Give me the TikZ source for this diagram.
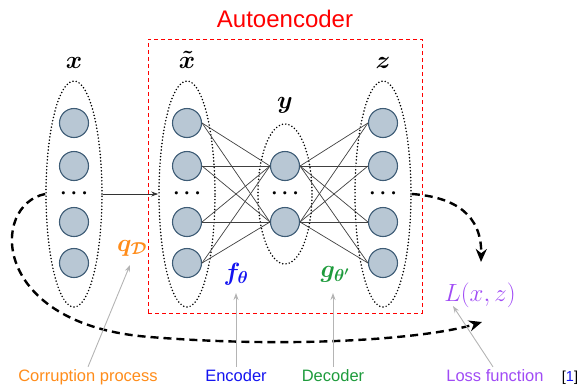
\documentclass[tikz,border=0pt]{standalone}
\usepackage{bm}
\usepackage[no-math]{fontspec}
\newfontfamily\arial{Liberation Sans}
\usetikzlibrary{arrows.meta,shapes.geometric}
\definecolor{nfill}{HTML}{B8C7D4}
\definecolor{nborder}{HTML}{3E5C76}
\definecolor{corange}{HTML}{FF8C1A}
\definecolor{cblue}{HTML}{1414F0}
\definecolor{cgreen}{HTML}{1E9B3C}
\definecolor{cpurple}{HTML}{A04BF5}
\definecolor{cgray}{HTML}{B4B4B4}
\begin{document}
\begin{tikzpicture}[x=1pt,y=-1pt,
  neuron/.style={circle, draw=nborder, fill=nfill, line width=1.1pt, minimum size=29pt, inner sep=0pt},
  layer/.style={ellipse, draw, line width=1.7pt, line cap=round, dash pattern=on 0pt off 3.3pt, inner sep=0pt},
  conn/.style={draw=black!75, line width=0.7pt},
  dotsnode/.style={font=\fontsize{21}{24}\selectfont, inner sep=0pt},
  mlabel/.style={font=\fontsize{24}{28}\selectfont, anchor=base, inner sep=0pt},
  bigdash/.style={line width=2.4pt, dash pattern=on 8pt off 5pt, -{Stealth[length=13pt,width=11pt]}},
  grayarrow/.style={draw=cgray, line width=0.9pt, -{Stealth[length=7pt,width=5pt]}},
  bottomlabel/.style={font=\arial\fontsize{16.5}{18}\selectfont, anchor=base, inner sep=2pt}]
\useasboundingbox (0,0) rectangle (581,386);

% Autoencoder title and box
\node[font=\arial\fontsize{24}{28}\selectfont, text=red, anchor=base] (ae) at (285,27) {Autoencoder};
\node[draw=red, line width=0.9pt, dash pattern=on 4pt off 3pt, minimum width=274pt, minimum height=274pt, inner sep=0pt] (aebox) at (285,176) {};

% layer ellipses
\node[layer, minimum width=56pt, minimum height=226pt] (xE) at (74,194) {};
\node[layer, minimum width=56pt, minimum height=226pt] (xtE) at (187,194) {};
\node[layer, minimum width=54pt, minimum height=140pt] (yE) at (285,194) {};
\node[layer, minimum width=56pt, minimum height=226pt] (zE) at (383,194) {};

% neurons
\foreach \i/\yy in {1/123,2/166,3/222,4/263} {
  \node[neuron] (x\i) at (74,\yy) {};
  \node[neuron] (xt\i) at (187,\yy) {};
  \node[neuron] (z\i) at (383,\yy) {};
}
\node[neuron] (y1) at (285,166) {};
\node[neuron] (y2) at (285,222) {};

% connections
\foreach \i in {1,2,3,4} {
  \foreach \j in {1,2} {
    \draw[conn] (xt\i.east) -- (y\j.west);
    \draw[conn] (y\j.east) -- (z\i.west);
  }
}

% dots
\node[dotsnode] (dx) at (74,194) {$\bm{\cdots}$};
\node[dotsnode] (dxt) at (187,194) {$\bm{\cdots}$};
\node[dotsnode] (dy) at (285,194) {$\bm{\cdots}$};
\node[dotsnode] (dz) at (383,194) {$\bm{\cdots}$};

% layer labels
\node[mlabel] (lx) at (74,68) {$\bm{x}$};
\node[mlabel] (lxt) at (187,68) {$\bm{\tilde{x}}$};
\node[mlabel] (ly) at (285,108) {$\bm{y}$};
\node[mlabel] (lz) at (383,68) {$\bm{z}$};

% arrow x -> x tilde
\draw[draw=black!80, line width=0.8pt, -{Stealth[length=7pt,width=5pt]}] (xE.east) -- (xtE.west);

% function labels
\node[mlabel, text=corange] (qD) at (132,251) {$\bm{q_{\mathcal{D}}}$};
\node[mlabel, text=cblue] (f) at (236,280) {$\bm{f_{\theta}}$};
\node[mlabel, text=cgreen] (g) at (335,277) {$\bm{g_{\theta'}}$};
\node[mlabel, text=cpurple, font=\fontsize{28}{32}\selectfont] (L) at (480,301) {$L(x,z)$};

% dashed arrows to loss
\coordinate (Ltip) at (482,322);
\coordinate (Ltop) at (481,262);
\draw[bigdash] (xE.west) .. controls (-10,205) and (-10,325) .. (150,337) .. controls (300,349) and (430,338) .. (Ltip);
\draw[bigdash] (zE.east) .. controls (455,197) and (482,215) .. (Ltop);

% bottom labels
\node[bottomlabel, text=corange] (corr) at (88,381) {Corruption process};
\node[bottomlabel, text=cblue] (enc) at (236,381) {Encoder};
\node[bottomlabel, text=cgreen] (dec) at (333,381) {Decoder};
\node[bottomlabel, text=cpurple] (loss) at (495,381) {Loss function};
\node[font=\arial\fontsize{14.5}{16}\selectfont, anchor=base] (ref) at (570,381) {[\textcolor{cblue}{1}]};

% gray pointer arrows
\coordinate (qtip) at (130,265);
\coordinate (ftip) at (236,293);
\coordinate (gtip) at (333,293);
\coordinate (ltip2) at (453,306);
\draw[grayarrow] (corr.north) -- (qtip);
\draw[grayarrow] (enc.north) -- (ftip);
\draw[grayarrow] (dec.north) -- (gtip);
\draw[grayarrow] ([xshift=-2pt]loss.north) -- (ltip2);
\end{tikzpicture}
\end{document}
